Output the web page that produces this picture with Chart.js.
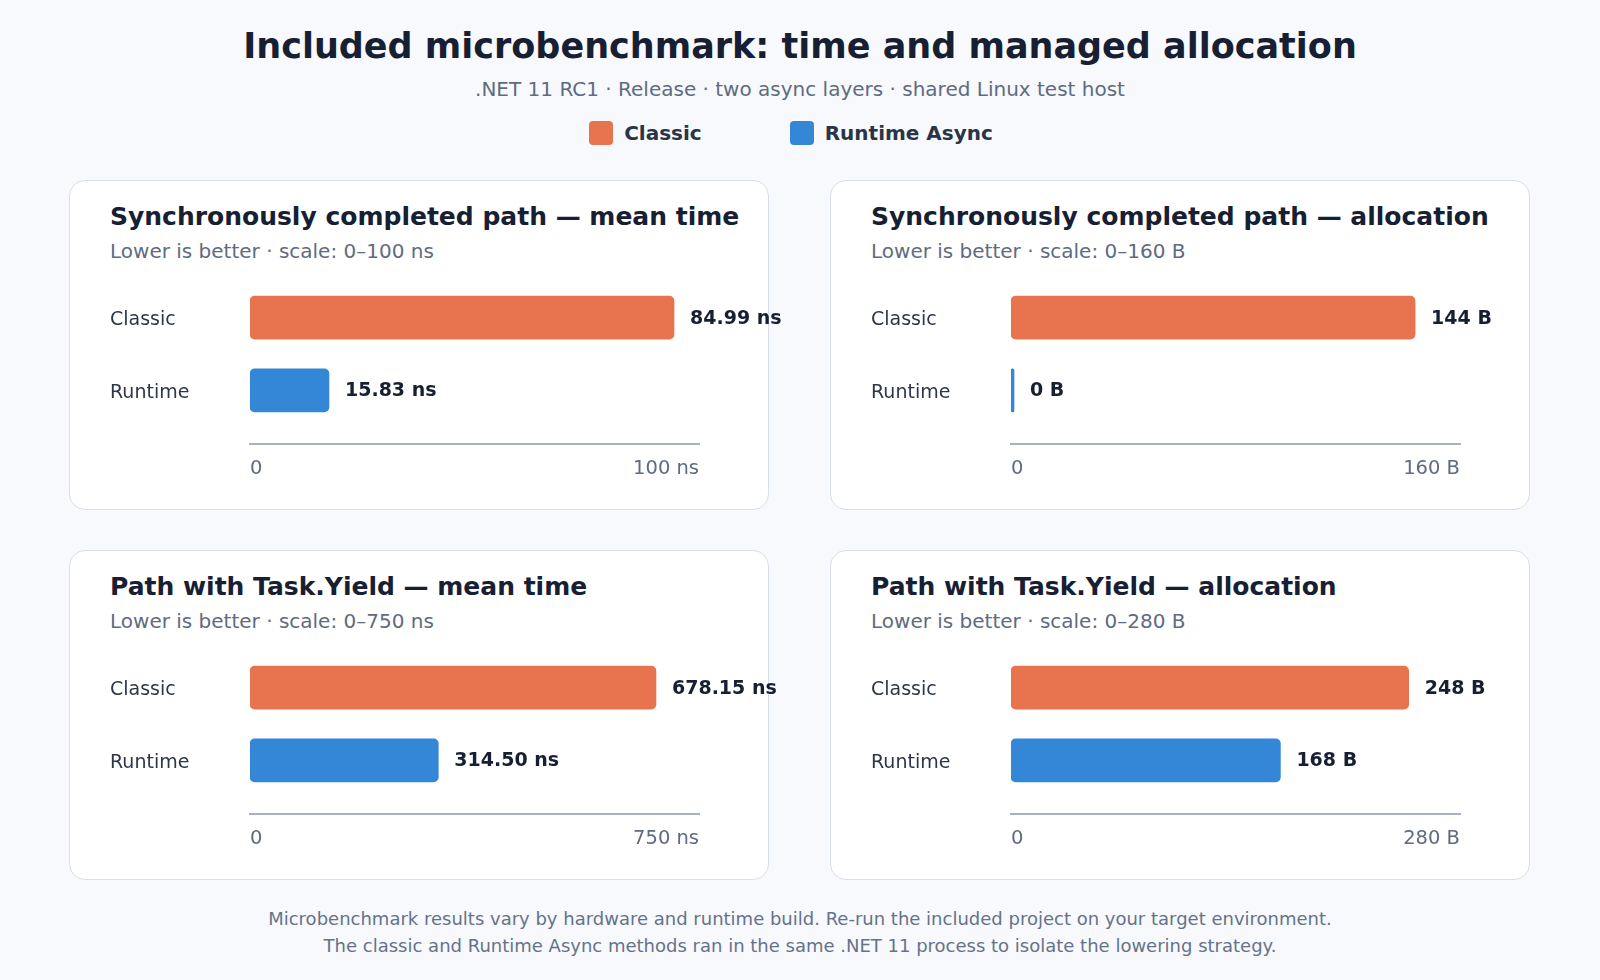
<!DOCTYPE html>
<html>
<head>
<meta charset="utf-8">
<script src="https://cdn.jsdelivr.net/npm/chart.js@4"></script>
<style>
  html, body { margin: 0; padding: 0; }
  body {
    width: 1600px; height: 980px; position: relative; overflow: hidden;
    background: #f7f9fc; font-family: "DejaVu Sans", sans-serif; color: #172033;
  }
  .title { position: absolute; left: 0; width: 1600px; top: 26px; text-align: center;
    font-size: 35px; line-height: 40px; font-weight: bold; color: #172033; }
  .subtitle { position: absolute; left: 0; width: 1600px; top: 77px; text-align: center;
    font-size: 20px; line-height: 24px; color: #5f6b80; }
  .legend { position: absolute; left: -9px; width: 1600px; top: 121px; display: flex;
    justify-content: center; gap: 88px; font-size: 20px; line-height: 24px; font-weight: bold; color: #2a3447; }
  .legend span { display: flex; align-items: center; }
  .legend i { display: inline-block; width: 24px; height: 24px; border-radius: 4px; margin-right: 11px; }
  .card { position: absolute; box-sizing: border-box; width: 700px; height: 330px; background: #fff;
    border: 1.5px solid #d9dfe8; border-radius: 16px; }
  .card h2 { position: absolute; left: 40px; top: 21px; margin: 0; font-size: 25px; line-height: 30px;
    font-weight: bold; color: #172033; white-space: nowrap; }
  .card p { position: absolute; left: 40px; top: 58px; margin: 0; font-size: 20px; line-height: 24px;
    color: #5f6b80; white-space: nowrap; }
  .card canvas { position: absolute; left: 40px; top: 89px; }
  .footer { position: absolute; left: 0; width: 1600px; top: 905px; text-align: center;
    font-size: 18px; line-height: 27px; color: #66728a; }
</style>
</head>
<body>
<div class="title">Included microbenchmark: time and managed allocation</div>
<div class="subtitle">.NET 11 RC1 · Release · two async layers · shared Linux test host</div>
<div class="legend">
  <span><i style="background:#e8744f"></i>Classic</span>
  <span><i style="background:#3387d6"></i>Runtime Async</span>
</div>

<div class="card" style="left:69px; top:179.5px">
  <h2>Synchronously completed path — mean time</h2>
  <p>Lower is better · scale: 0–100 ns</p>
  <canvas id="c0" width="700" height="230"></canvas>
</div>
<div class="card" style="left:830px; top:179.5px">
  <h2>Synchronously completed path — allocation</h2>
  <p>Lower is better · scale: 0–160 B</p>
  <canvas id="c1" width="700" height="230"></canvas>
</div>
<div class="card" style="left:69px; top:549.5px">
  <h2>Path with Task.Yield — mean time</h2>
  <p>Lower is better · scale: 0–750 ns</p>
  <canvas id="c2" width="700" height="230"></canvas>
</div>
<div class="card" style="left:830px; top:549.5px">
  <h2>Path with Task.Yield — allocation</h2>
  <p>Lower is better · scale: 0–280 B</p>
  <canvas id="c3" width="700" height="230"></canvas>
</div>

<div class="footer">
  Microbenchmark results vary by hardware and runtime build. Re-run the included project on your target environment.<br>
  The classic and Runtime Async methods ran in the same .NET 11 process to isolate the lowering strategy.
</div>

<script>
// data
const rowLabels = ['Classic', 'Runtime'];
const barColors = ['#e8744f', '#3387d6'];

const syncTimeNs = [84.99, 15.83];
const syncAllocB = [144, 0];
const yieldTimeNs = [678.15, 314.50];
const yieldAllocB = [248, 168];

// scale end per panel (first panel's bars are drawn against 90 in the picture)
const scaleMax = [90, 160, 750, 280];
const axisEndLabels = ['100 ns', '160 B', '750 ns', '280 B'];

const fmtNs = v => v.toFixed(2) + ' ns';
const fmtB = v => v + ' B';

const panels = [
  { id: 'c0', values: syncTimeNs, fmt: fmtNs },
  { id: 'c1', values: syncAllocB, fmt: fmtB },
  { id: 'c2', values: yieldTimeNs, fmt: fmtNs },
  { id: 'c3', values: yieldAllocB, fmt: fmtB },
];

// value text right of each bar
const valueLabels = {
  id: 'valueLabels',
  afterDatasetsDraw(chart, args, opts) {
    const ctx = chart.ctx;
    const meta = chart.getDatasetMeta(0);
    ctx.save();
    ctx.font = 'bold 19px "DejaVu Sans"';
    ctx.fillStyle = '#172033';
    ctx.textBaseline = 'middle';
    ctx.textAlign = 'left';
    meta.data.forEach((bar, i) => {
      ctx.fillText(opts.fmt(opts.values[i]), bar.x + 16, bar.y + 1);
    });
    ctx.restore();
  }
};

panels.forEach((p, n) => {
  new Chart(document.getElementById(p.id), {
    type: 'bar',
    data: {
      datasets: [{
        data: p.values.map((v, i) => ({ x: v, y: i })),
        backgroundColor: barColors,
        barThickness: 43,
        borderRadius: 5,
        borderSkipped: false,
        minBarLength: 3
      }]
    },
    options: {
      indexAxis: 'y',
      responsive: false,
      animation: false,
      layout: { padding: { top: 8.3, bottom: 6.2, left: 0, right: 111 } },
      plugins: {
        legend: { display: false },
        tooltip: { enabled: false },
        valueLabels: { values: p.values, fmt: p.fmt }
      },
      scales: {
        x: {
          type: 'linear',
          min: 0,
          max: scaleMax[n],
          grid: { display: false, drawTicks: false },
          border: { display: true, color: '#aab2bf', width: 2 },
          afterBuildTicks: s => { s.ticks = [{ value: 0 }, { value: scaleMax[n] }]; },
          ticks: {
            align: 'inner',
            padding: 13,
            color: '#5f6b80',
            font: { family: 'DejaVu Sans', size: 19.5 },
            callback: (v, i) => i === 0 ? '0' : axisEndLabels[n]
          }
        },
        y: {
          type: 'linear',
          offset: false,
          reverse: true,
          min: -0.5,
          max: 1.745,
          grid: { display: false, drawTicks: false, offset: false },
          border: { display: false },
          // row labels sit a touch below the bar centre
          afterBuildTicks: s => { s.ticks = rowLabels.map((l, i) => ({ value: i + 0.035 })); },
          afterFit: s => { s.width = 140; },
          ticks: {
            crossAlign: 'far',
            padding: 0,
            color: '#2d3748',
            font: { family: 'DejaVu Sans', size: 19 },
            callback: v => rowLabels[Math.round(v)]
          }
        }
      }
    },
    plugins: [valueLabels]
  });
});
</script>
</body>
</html>
